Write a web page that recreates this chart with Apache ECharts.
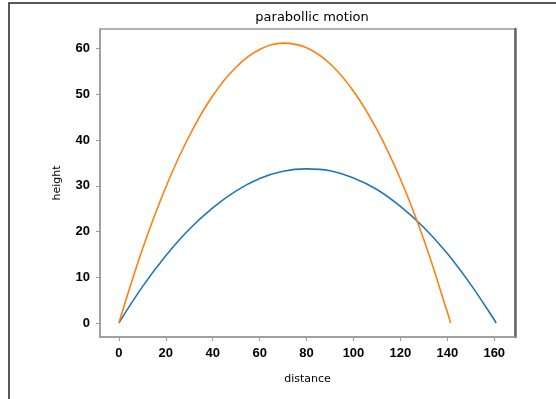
<!DOCTYPE html>
<html>
<head>
<meta charset="utf-8">
<script src="https://cdn.jsdelivr.net/npm/echarts@6/dist/echarts.min.js"></script>
<style>
  html, body { margin: 0; padding: 0; background: #fff; }
  #main { width: 556px; height: 399px; }
</style>
</head>
<body>
<div id="main"></div>
<script>
// values
var distBlue = [0, 10, 20, 30, 40, 50, 60, 70, 80, 90, 100, 110, 120, 130, 140, 150, 160, 160.8];
var heightBlue = [0, 7.9, 14.7, 20.5, 25.2, 28.9, 31.6, 33.2, 33.7, 33.3, 31.7, 29.2, 25.5, 20.9, 15.2, 8.4, 0.7, 0];
var distOrange = [0, 10, 20, 30, 40, 50, 60, 70, 80, 90, 100, 110, 120, 130, 140, 141.4];
var heightOrange = [0, 16.1, 29.7, 40.9, 49.7, 56.0, 59.8, 61.2, 60.2, 56.7, 50.7, 42.3, 31.5, 18.2, 2.4, 0];
var xTicks = [0, 20, 40, 60, 80, 100, 120, 140, 160];
var yTicks = [0, 10, 20, 30, 40, 50, 60];

function pairs(xs, ys){
	var out = [];
	for (var i = 0; i < xs.length; i++) out.push([xs[i], ys[i]]);
	return out;
}

var tickFont = {fontFamily: 'Liberation Sans', fontWeight: 'bold', fontSize: 13, color: '#000'};

var myChart = echarts.init(document.getElementById('main'));
var option = {
	animation: false,
	title: {
		text: 'parabollic motion',
		left: 307, top: 6, textAlign: 'center',
		textStyle: {fontFamily: 'DejaVu Sans', fontWeight: 'normal', fontSize: 13, color: '#000'}
	},
	grid: {
		left: 100, top: 29, right: 41, bottom: 62,
		show: true, borderColor: '#9a9a9a', borderWidth: 1.5
	},
	graphic: [{
		type: 'rect', silent: true,
		shape: {x: 9, y: 3, width: 700, height: 600},
		style: {fill: 'none', stroke: '#222', lineWidth: 1.5}
	}],
	xAxis: [{
		type: 'value', min: -8.04, max: 168.84,
		name: 'distance', nameLocation: 'middle', nameGap: 37,
		nameTextStyle: {fontFamily: 'DejaVu Sans', fontSize: 11, color: '#000'},
		axisLine: {show: true, onZero: false, lineStyle: {color: '#9a9a9a', width: 1.5}},
		axisTick: {show: true, customValues: xTicks, length: 4, lineStyle: {color: '#9a9a9a'}},
		axisLabel: Object.assign({customValues: xTicks, margin: 10}, tickFont),
		splitLine: {show: false}
	}],
	yAxis: [{
		type: 'value', min: -3.06, max: 64.3,
		name: 'height', nameLocation: 'middle', nameGap: 37,
		nameTextStyle: {fontFamily: 'DejaVu Sans', fontSize: 11, color: '#000'},
		axisLine: {show: true, onZero: false, lineStyle: {color: '#9a9a9a', width: 1.5}},
		axisTick: {show: true, customValues: yTicks, length: 4, lineStyle: {color: '#9a9a9a'}},
		axisLabel: Object.assign({customValues: yTicks, margin: 10}, tickFont),
		splitLine: {show: false}
	}, {
		type: 'value', position: 'right', min: -3.06, max: 64.3,
		axisLine: {show: true, onZero: false, lineStyle: {color: '#666', width: 2.5}},
		axisTick: {show: false}, axisLabel: {show: false}, splitLine: {show: false}
	}],
	series: [{
		name: 'blue', type: 'line', smooth: 0.4, showSymbol: false,
		data: pairs(distBlue, heightBlue),
		lineStyle: {color: '#1f77b4', width: 1.6}
	}, {
		name: 'orange', type: 'line', smooth: 0.4, showSymbol: false,
		data: pairs(distOrange, heightOrange),
		lineStyle: {color: '#ff7f0e', width: 1.6}
	}]
};
myChart.setOption(option);
</script>
</body>
</html>
